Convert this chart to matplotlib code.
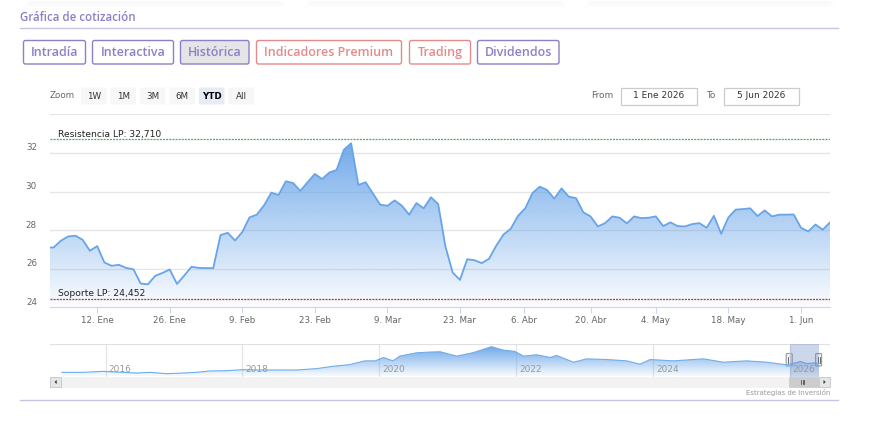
import numpy as np
import pandas as pd
import matplotlib
matplotlib.use('Agg')
import matplotlib.pyplot as plt
from matplotlib.patches import FancyBboxPatch, Rectangle, Polygon
from matplotlib.transforms import blended_transform_factory, offset_copy

W, H = 872, 428

# daily closes, 31 Dic 2025 .. 5 Jun 2026 (trading days only)
HOLIDAYS = ['2026-01-01', '2026-04-03', '2026-04-06', '2026-05-01']
PRICES = [
    27.10, 27.10, 27.45, 27.67, 27.71, 27.50, 26.93, 27.17, 26.32, 26.15,
    26.20, 26.04, 25.97, 25.23, 25.19, 25.63, 25.78, 25.96, 25.21, 25.64,
    26.10, 26.04, 26.03, 26.03, 27.74, 27.86, 27.46, 27.90, 28.66, 28.80,
    29.28, 29.94, 29.82, 30.53, 30.44, 30.03, 30.48, 30.91, 30.65, 30.98,
    31.12, 32.16, 32.50, 30.34, 30.48, 29.90, 29.32, 29.26, 29.54, 29.26,
    28.80, 29.40, 29.13, 29.70, 29.35, 27.15, 25.80, 25.42, 26.49, 26.44,
    26.29, 26.51, 27.19, 27.77, 28.07, 28.74, 29.13, 29.92, 30.25, 30.08,
    29.63, 30.16, 29.73, 29.66, 28.92, 28.71, 28.19, 28.36, 28.71, 28.64,
    28.35, 28.71, 28.62, 28.64, 28.71, 28.21, 28.40, 28.21, 28.19, 28.31,
    28.36, 28.12, 28.74, 27.81, 28.66, 29.06, 29.09, 29.13, 28.73, 29.02,
    28.71, 28.80, 28.80, 28.81, 28.12, 27.93, 28.29, 28.02, 28.40,
]
RESISTANCE = 32.710
SUPPORT = 24.452
Y_LABELS = [24, 26, 28, 30, 32]
Y_GRID = [26, 28, 30, 32, 34]
TICK_DATES = ['2026-01-12', '2026-01-26', '2026-02-09', '2026-02-23', '2026-03-09', '2026-03-23',
              '2026-04-06', '2026-04-20', '2026-05-04', '2026-05-18', '2026-06-01']
TICK_LABELS = ['12. Ene', '26. Ene', '9. Feb', '23. Feb', '9. Mar', '23. Mar',
               '6. Abr', '20. Abr', '4. May', '18. May', '1. Jun']

# navigator (long history, decimal years)
NAV_YEARS = [2015.36, 2015.67, 2015.96, 2016.16, 2016.45, 2016.65, 2016.89, 2017.13, 2017.33,
             2017.52, 2017.77, 2018.01, 2018.26, 2018.50, 2018.79, 2019.08, 2019.33, 2019.57,
             2019.79, 2019.94, 2020.06, 2020.20, 2020.30, 2020.55, 2020.74, 2020.89, 2021.13,
             2021.37, 2021.64, 2021.81, 2021.98, 2022.11, 2022.30, 2022.50, 2022.59, 2022.84,
             2023.03, 2023.32, 2023.62, 2023.81, 2023.96, 2024.30, 2024.74, 2025.03, 2025.37,
             2025.66, 2025.96, 2026.16, 2026.25, 2026.37, 2026.43]
NAV_VALUES = [12.4, 12.4, 14.2, 13.0, 11.2, 12.4, 10.0, 11.2, 12.4,
              14.8, 15.4, 17.2, 16.6, 16.6, 16.6, 19.0, 23.3, 26.3,
              32.9, 32.9, 38.9, 32.9, 41.4, 47.4, 48.6, 49.2, 41.4,
              47.4, 58.2, 52.2, 49.8, 41.4, 43.8, 38.9, 42.6, 30.5,
              36.5, 35.3, 32.9, 26.9, 35.3, 32.9, 36.5, 30.5, 32.9,
              30.5, 25.7, 31.7, 28.1, 29.3, 28.4]
NAV_YEAR_TICKS = [2016, 2018, 2020, 2022, 2024, 2026]

TABS = ['Intradía', 'Interactiva', 'Histórica', 'Indicadores Premium', 'Trading', 'Dividendos']
ZOOM_BUTTONS = ['1W', '1M', '3M', '6M', 'YTD', 'All']
DATE_FROM, DATE_TO = '1 Ene 2026', '5 Jun 2026'

PURPLE = '#8a82c6'
SALMON = '#e58a8a'
LINE = '#68a4e8'
UI_FONT = 'Open Sans'


def px_axes(fig, left, top, right, bottom):
    return fig.add_axes([left / W, 1 - bottom / H, (right - left) / W, (bottom - top) / H])


def gradient_fill(ax, x, y, y0, y1, a_top, a_bot, rgb=(0.40, 0.64, 0.91)):
    poly = ax.fill_between(x, y, y0, color='none', lw=0)
    grad = np.zeros((256, 1, 4))
    grad[..., 0], grad[..., 1], grad[..., 2] = rgb
    grad[:, 0, 3] = np.linspace(a_top, a_bot, 256)
    im = ax.imshow(grad, extent=[x[0], x[-1], y0, y1], aspect='auto',
                   origin='upper', zorder=1, interpolation='bilinear')
    im.set_clip_path(poly.get_paths()[0], transform=ax.transData)


def box(ax, x0, y0, w, h, fc, ec, lw=1.0, r=2):
    ax.add_patch(FancyBboxPatch((x0, y0), w, h, boxstyle='round,pad=0,rounding_size=%s' % r,
                                fc=fc, ec=ec, lw=lw))


fig = plt.figure(figsize=(W / 100, H / 100), dpi=100)
fig.patch.set_facecolor('white')

# ---- page furniture ----
ui = px_axes(fig, 0, 0, W, H)
ui.set_xlim(0, W)
ui.set_ylim(H, 0)
ui.axis('off')

# soft shadows of the cards above
for x0, x1 in [(22, 286), (303, 567), (583, 836)]:
    for i in range(8):
        ui.plot([x0 + 6 - i, x1 - 6 + i], [1 + i, 1 + i], color='black',
                alpha=0.018 * (8 - i) / 8, lw=1, solid_capstyle='butt')

ui.text(20, 17, 'Gráfica de cotización', fontsize=8.3, color=PURPLE, fontweight='semibold',
        family=UI_FONT, va='center')
ui.plot([20, 838], [27.5, 27.5], color='#c9c5e0', lw=1)
ui.plot([20, 838], [399.5, 399.5], color='#c9c5e0', lw=1)

tab_x = [(23.5, 85.5), (92.5, 173.5), (180.5, 249), (256.5, 401.5), (409.5, 470.5), (477.5, 559)]
tab_col = [PURPLE, PURPLE, PURPLE, SALMON, SALMON, PURPLE]
for label, (x0, x1), col in zip(TABS, tab_x, tab_col):
    fc = '#e5e5e8' if label == 'Histórica' else 'white'
    box(ui, x0, 40.5, x1 - x0, 23.5, fc, col, lw=1.0, r=2)
    ui.text((x0 + x1) / 2, 52.5, label, fontsize=9, color=col, fontweight='semibold',
            family=UI_FONT, ha='center', va='center')

# range selector
ui.text(50, 95.5, 'Zoom', fontsize=6.3, color='#666666', va='center')
zoom_x = [81, 110.5, 140, 169.5, 199, 228.5]
for label, x0 in zip(ZOOM_BUTTONS, zoom_x):
    sel = label == 'YTD'
    box(ui, x0, 87.5, 25.5, 17, '#e6ebf5' if sel else '#f7f7f7', 'none', lw=0, r=1.5)
    ui.text(x0 + 12.75, 96, label, fontsize=6.3, color='black' if sel else '#333333',
            fontweight='bold' if sel else 'normal', ha='center', va='center')

ui.text(591.5, 95.5, 'From', fontsize=6.5, color='#666666', va='center')
ui.text(706, 95.5, 'To', fontsize=6.5, color='#666666', va='center')
for (x0, x1), txt in zip([(621, 697), (723.5, 799)], [DATE_FROM, DATE_TO]):
    ui.add_patch(Rectangle((x0, 87.5), x1 - x0, 17, fc='white', ec='#cccccc', lw=0.9))
    ui.text((x0 + x1) / 2, 95.5, txt, fontsize=6.5, color='#333333', ha='center', va='center')

# ---- main chart ----
dates = pd.bdate_range('2025-12-31', '2026-06-05')
dates = dates[~dates.isin(pd.to_datetime(HOLIDAYS))]
x = np.arange(len(PRICES))
dts = dates.asi8[:len(PRICES)].astype(float)

ax = px_axes(fig, 50, 114.3, 830, 307.3)
ax.set_facecolor('none')
gradient_fill(ax, x, PRICES, 24, max(PRICES), 0.92, 0.03)
ax.plot(x, PRICES, color=LINE, lw=1.3, zorder=3, solid_joinstyle='round')
ax.axhline(RESISTANCE, color='#53a95f', lw=0.9, ls=(0, (1.6, 0.9)), zorder=2)
ax.axhline(SUPPORT, color='#c8302e', lw=0.9, ls=(0, (1.6, 0.9)), zorder=2)

left = np.interp(pd.Timestamp('2026-01-01').value, dts, x)
ax.set_xlim(left, x[-1])
ax.set_ylim(24, 34)

for s in ['top', 'left', 'right']:
    ax.spines[s].set_visible(False)
ax.spines['bottom'].set_color('#ccd6eb')
ax.set_yticks(Y_GRID)
ax.yaxis.grid(True, color='#e6e6e6', lw=1)
ax.set_axisbelow(True)
ax.tick_params(axis='y', length=0, labelleft=False)

trans_lbl = offset_copy(blended_transform_factory(ax.transAxes, ax.transData), fig=fig,
                        x=-13, y=5, units='dots')
for v in Y_LABELS:
    ax.text(0, v, str(v), transform=trans_lbl, ha='right', va='center', fontsize=6.3,
            color='#666666')

tick_pos = np.interp(pd.to_datetime(TICK_DATES).asi8.astype(float), dts, x)
ax.set_xticks(tick_pos)
ax.set_xticklabels(TICK_LABELS)
ax.tick_params(axis='x', length=4, width=0.8, color='#ccd6eb', labelsize=6.3,
               labelcolor='#666666', pad=2)

lvl = blended_transform_factory(ax.transAxes, ax.transData)
ax.annotate('Resistencia LP: 32,710', xy=(0, RESISTANCE), xycoords=lvl, xytext=(6, 1.8),
            textcoords='offset points', fontsize=6.6, color='#222222', va='baseline')
ax.annotate('Soporte LP: 24,452', xy=(0, SUPPORT), xycoords=lvl, xytext=(6, 2.2),
            textcoords='offset points', fontsize=6.6, color='#222222', va='baseline')

# ---- navigator ----
nav = px_axes(fig, 50, 344, 830, 376.5)
nav.set_facecolor('none')
gradient_fill(nav, np.array(NAV_YEARS), NAV_VALUES, 5, max(NAV_VALUES), 0.95, 0.05)
nav.plot(NAV_YEARS, NAV_VALUES, color='#6fadeb', lw=0.8, zorder=3)
nav.set_xlim(2015.186, 2026.589)
nav.set_ylim(5, 63)
nav.axvspan(2026.0, NAV_YEARS[-1], color=(102 / 255, 133 / 255, 194 / 255), alpha=0.32, lw=0,
            zorder=4)
for s in nav.spines.values():
    s.set_visible(False)
nav.axhline(63, color='#e0e0e0', lw=1.5)
nav.set_xticks(NAV_YEAR_TICKS)
nav.xaxis.grid(True, color='#e6e6e6', lw=1)
nav.set_axisbelow(True)
nav.set_yticks([])
nav.tick_params(axis='x', length=0, labelbottom=False)
yr_trans = offset_copy(blended_transform_factory(nav.transData, nav.transAxes), fig=fig,
                       x=3, y=0, units='dots')
for yr in NAV_YEAR_TICKS:
    nav.text(yr, 0.2, str(yr), transform=yr_trans, fontsize=6.5, color='#999999',
             va='center', ha='left', zorder=5)

# handles
for hx in [789.2, 818.6]:
    box(ui, hx - 3, 353.5, 6, 12.5, '#f2f2f2', '#999999', lw=0.8, r=1)
    for dx in (-0.9, 0.9):
        ui.plot([hx + dx, hx + dx], [356.5, 363], color='#333333', lw=0.5)

# scrollbar
ui.add_patch(Rectangle((50, 377), 780, 10, fc='#f2f2f2', ec='#f2f2f2', lw=0.5))
ui.add_patch(Rectangle((789, 377), 30, 10, fc='#cccccc', ec='#cccccc', lw=0.5))
for gx in (801.2, 802.8, 804.4):
    ui.plot([gx, gx], [380, 384], color='#333333', lw=0.5)
for bx, pts in [(50, [(56.7, 380), (56.7, 384), (54.5, 382)]),
                (819, [(823.5, 380), (823.5, 384), (825.7, 382)])]:
    ui.add_patch(Rectangle((bx, 377), 11, 10, fc='#e6e6e6', ec='#cccccc', lw=0.7))
    ui.add_patch(Polygon(pts, closed=True, fc='#333333', ec='none'))

ui.text(830, 392.5, 'Estrategias de Inversión', fontsize=5, color='#999999', ha='right',
        va='center')

fig.savefig('out.png', dpi=100, facecolor='white')
